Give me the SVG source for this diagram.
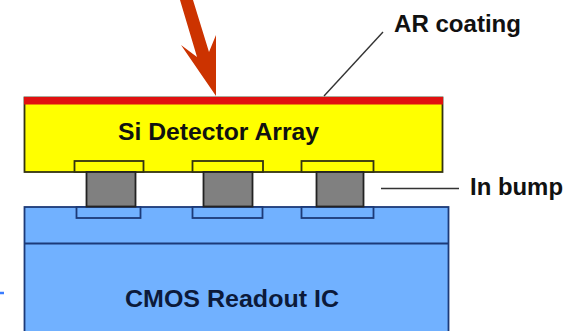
<svg xmlns="http://www.w3.org/2000/svg" width="575" height="331" viewBox="0 0 575 331">
<style>
.lbl{font-family:"Liberation Sans",Arial,sans-serif;font-weight:bold;font-size:24px;fill:#111}
.y{fill:#ffff00;stroke:#333311;stroke-width:1.8}
.b{fill:#71b1ff;stroke:#1c3a78;stroke-width:1.8}
.g{fill:#808080;stroke:#222;stroke-width:1.8}
.l{stroke:#333;stroke-width:1.4;fill:none}
</style>
<rect width="575" height="331" fill="#fff"/>
<g id="cmos-readout-ic">
<rect class="b" x="24.500" y="207" width="424" height="130"/>
<line class="b" x1="24" y1="243.500" x2="448" y2="243.500"/>
<text class="lbl" x="125" y="306.500" style="fill:#0c1a3a" textLength="214" lengthAdjust="spacingAndGlyphs">CMOS Readout IC</text>
</g>
<g id="lower-pads">
<rect class="b" x="76.500" y="207" width="64" height="11"/>
<rect class="b" x="192.500" y="207" width="70" height="11"/>
<rect class="b" x="301.500" y="207" width="72" height="11"/>
</g>
<g id="si-detector-array">
<rect class="y" x="24.500" y="97.500" width="418" height="74.500"/>
<text class="lbl" x="118" y="139.500" textLength="201" lengthAdjust="spacingAndGlyphs">Si Detector Array</text>
</g>
<g id="ar-coating">
<rect x="24" y="97" width="419" height="7.500" fill="#e01010"/>
<text class="lbl" x="394" y="32" textLength="127" lengthAdjust="spacingAndGlyphs">AR coating</text>
</g>
<g id="upper-pads">
<rect class="y" x="74.500" y="161" width="69" height="11"/>
<rect class="y" x="192.500" y="161" width="70.500" height="11"/>
<rect class="y" x="301.500" y="161" width="72" height="11"/>
</g>
<g id="in-bumps">
<rect class="g" x="86.500" y="172" width="49" height="34.500"/>
<rect class="g" x="203.500" y="172" width="49" height="34.500"/>
<rect class="g" x="316.500" y="172" width="47" height="34.500"/>
<text class="lbl" x="470" y="195" textLength="93" lengthAdjust="spacingAndGlyphs">In bump</text>
</g>
<g id="connectors">
<line class="l" x1="324" y1="96" x2="383" y2="32"/>
<line class="l" x1="381" y1="188.500" x2="459" y2="188.500"/>
<polygon points="180,0 193,0 209,52 216,35 216,96 181,45 197,57" fill="#cc3300"/>
<line x1="0" y1="293" x2="4" y2="293" stroke="#3a7cff" stroke-width="2.500"/>
</g>
</svg>
